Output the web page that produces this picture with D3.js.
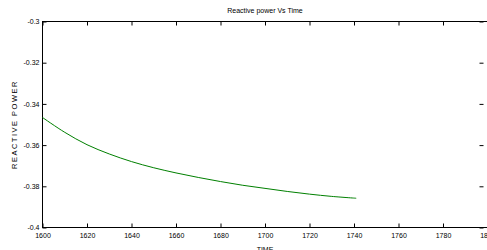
<!DOCTYPE html>
<html>
<head>
<meta charset="utf-8">
<script src="https://cdn.jsdelivr.net/npm/d3@7"></script>
<style>
  body { margin: 0; background: #fff; }
  svg { display: block; }
  text { font-family: "Liberation Sans", Arial, sans-serif; fill: #000; }
</style>
</head>
<body>
<svg id="chart"></svg>
<script>
// time samples and reactive power
var timeValues = [1600, 1610, 1620, 1630, 1640, 1650, 1660, 1670, 1680, 1690, 1700, 1710, 1720, 1730, 1741];
var powerValues = [-0.3466, -0.3538, -0.3598, -0.3643, -0.368, -0.371, -0.3735, -0.3757, -0.3777, -0.3795, -0.381, -0.3825, -0.3838, -0.3849, -0.3858];
var xTicks = [1600, 1620, 1640, 1660, 1680, 1700, 1720, 1740, 1760, 1780, 1800];
var yTicks = [-0.4, -0.38, -0.36, -0.34, -0.32, -0.3];

var width = 487, height = 250;
var plotLeft = 42.5, plotTop = 21.5, plotRight = 487.5, plotBottom = 227.5;

var svg = d3.select("#chart")
    .attr("width", width)
    .attr("height", height);

var x = d3.scaleLinear().domain([1600, 1800]).range([plotLeft, plotRight]);
var y = d3.scaleLinear().domain([-0.4, -0.3]).range([plotBottom, plotTop]);

function styleAxis(g, labels) {
    g.select(".domain").remove();
    g.selectAll(".tick line").attr("stroke", "#000").attr("stroke-width", 1);
    g.selectAll(".tick text")
        .style("font-size", "7px")
        .style("font-family", "'Liberation Sans', Arial, sans-serif")
        .attr("fill", labels ? "#000" : "none");
}

var fmtY = function(d) { return String(+d.toFixed(2)); };

svg.append("g")
    .attr("transform", "translate(0," + plotBottom + ")")
    .call(d3.axisBottom(x).tickValues(xTicks).tickSizeInner(-4).tickSizeOuter(0).tickPadding(6).tickFormat(d3.format("d")))
    .call(function(g) { styleAxis(g, true); });

svg.append("g")
    .attr("transform", "translate(0," + plotTop + ")")
    .call(d3.axisTop(x).tickValues(xTicks).tickSizeInner(-4).tickSizeOuter(0).tickFormat(""))
    .call(function(g) { styleAxis(g, false); });

svg.append("g")
    .attr("transform", "translate(" + plotLeft + ",0)")
    .call(d3.axisLeft(y).tickValues(yTicks).tickSizeInner(-4).tickSizeOuter(0).tickPadding(3).tickFormat(fmtY))
    .call(function(g) { styleAxis(g, true); });

svg.append("g")
    .attr("transform", "translate(" + (plotRight - 4) + ",0)")
    .call(d3.axisRight(y).tickValues(yTicks).tickSizeInner(-4).tickSizeOuter(0).tickFormat(""))
    .call(function(g) { styleAxis(g, false); });

// box
svg.append("rect")
    .attr("x", plotLeft).attr("y", plotTop)
    .attr("width", plotRight - plotLeft).attr("height", plotBottom - plotTop)
    .attr("fill", "none").attr("stroke", "#000").attr("stroke-width", 1);

var line = d3.line()
    .x(function(d, i) { return x(timeValues[i]); })
    .y(function(d) { return y(d); })
    .curve(d3.curveCatmullRom);

svg.append("path")
    .datum(powerValues)
    .attr("d", line)
    .attr("fill", "none")
    .attr("stroke", "#008000")
    .attr("stroke-width", 1);

svg.append("text")
    .attr("x", x(1700)).attr("y", 13)
    .attr("text-anchor", "middle")
    .style("font-size", "7px")
    .text("Reactive power Vs Time");

svg.append("text")
    .attr("x", x(1700)).attr("y", 252)
    .attr("text-anchor", "middle")
    .style("font-size", "7px")
    .text("TIME");

svg.append("text")
    .attr("transform", "translate(17," + ((plotTop + plotBottom) / 2) + ") rotate(-90)")
    .attr("text-anchor", "middle")
    .style("font-size", "7.5px")
    .style("letter-spacing", "1.5px")
    .text("REACTIVE POWER");
</script>
</body>
</html>
